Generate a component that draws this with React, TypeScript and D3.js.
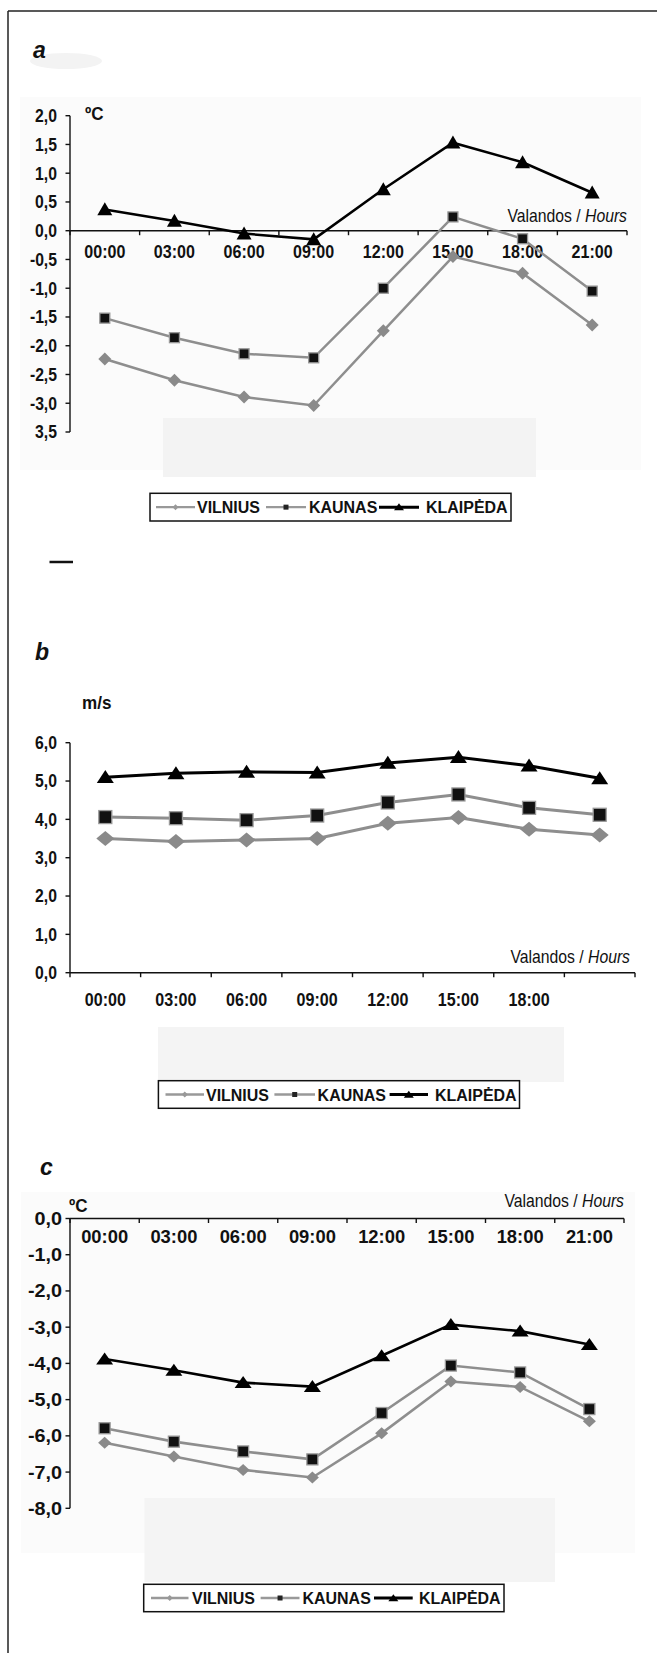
import React from "react";
import * as d3 from "d3";

const hours = ["00:00", "03:00", "06:00", "09:00", "12:00", "15:00", "18:00", "21:00"];
const hoursB = ["00:00", "03:00", "06:00", "09:00", "12:00", "15:00", "18:00"];
const seriesNames = ["VILNIUS", "KAUNAS", "KLAIPĖDA"];

// Panel a: air temperature, °C
const vilniusA = [-2.23, -2.6, -2.89, -3.04, -1.74, -0.45, -0.74, -1.64];
const kaunasA = [-1.52, -1.86, -2.14, -2.21, -1.0, 0.24, -0.14, -1.05];
const klaipedaA = [0.37, 0.17, -0.05, -0.15, 0.72, 1.53, 1.19, 0.66];
const yTicksA = [2, 1.5, 1, 0.5, 0, -0.5, -1, -1.5, -2, -2.5, -3, -3.5];
const yTickLabelsA = ["2,0", "1,5", "1,0", "0,5", "0,0", "-0,5", "-1,0", "-1,5", "-2,0", "-2,5", "-3,0", "3,5"];

// Panel b: wind speed, m/s
const vilniusB = [3.5, 3.42, 3.46, 3.5, 3.9, 4.05, 3.74, 3.59];
const kaunasB = [4.06, 4.03, 3.98, 4.1, 4.44, 4.65, 4.3, 4.12];
const klaipedaB = [5.1, 5.2, 5.24, 5.22, 5.47, 5.62, 5.4, 5.07];
const yTicksB = [0, 1, 2, 3, 4, 5, 6];
const yTickLabelsB = ["0,0", "1,0", "2,0", "3,0", "4,0", "5,0", "6,0"];

// Panel c: temperature, °C
const vilniusC = [-6.19, -6.57, -6.94, -7.15, -5.93, -4.5, -4.65, -5.6];
const kaunasC = [-5.79, -6.16, -6.43, -6.65, -5.37, -4.06, -4.25, -5.26];
const klaipedaC = [-3.88, -4.19, -4.53, -4.64, -3.79, -2.93, -3.11, -3.48];
const yTicksC = [0, -1, -2, -3, -4, -5, -6, -7, -8];
const yTickLabelsC = ["0,0", "-1,0", "-2,0", "-3,0", "-4,0", "-5,0", "-6,0", "-7,0", "-8,0"];

const FONT = "'Liberation Sans', Arial, Helvetica, sans-serif";
const GRAY_LINE = "#8e8e8e";
const GRAY_MARK = "#8a8a8a";

function T({
  x,
  y,
  sx = 1,
  size,
  anchor = "start",
  weight = "bold",
  italic = false,
  children,
}: {
  x: number;
  y: number;
  sx?: number;
  size: number;
  anchor?: string;
  weight?: string;
  italic?: boolean;
  children: React.ReactNode;
}) {
  return (
    <text
      transform={`translate(${x},${y}) scale(${sx},1)`}
      textAnchor={anchor}
      fontSize={size}
      fontWeight={weight}
      fontStyle={italic ? "italic" : "normal"}
      fill="#111"
    >
      {children}
    </text>
  );
}

type Cfg = {
  letter: string;
  letterX: number;
  letterY: number;
  unit: string;
  unitX: number;
  unitY: number;
  x0: number;
  x1: number;
  yDomain: [number, number];
  yRange: [number, number];
  axisValue: number;
  yTicks: number[];
  yTickLabels: string[];
  yLabelRight: number;
  yFont: number;
  ySx: number;
  xLabels: string[];
  xLabelY: number;
  xFont: number;
  xSx: number;
  hoursY: number;
  hoursRight: number;
  data: number[][];
  tri: [number, number];
  sq: number;
  dia: [number, number];
  lw: number;
  legend: { x0: number; x1: number; y0: number; y1: number; items: { l0: number; l1: number; t: number }[] };
};

function Triangle({ x, y, w, h, fill }: { x: number; y: number; w: number; h: number; fill: string }) {
  return <path d={`M${x},${y - h * 0.55}L${x + w / 2},${y + h * 0.45}L${x - w / 2},${y + h * 0.45}Z`} fill={fill} />;
}
function Diamond({ x, y, w, h, fill }: { x: number; y: number; w: number; h: number; fill: string }) {
  return <path d={`M${x},${y - h / 2}L${x + w / 2},${y}L${x},${y + h / 2}L${x - w / 2},${y}Z`} fill={fill} />;
}
function Square({ x, y, s }: { x: number; y: number; s: number }) {
  return <rect x={x - s / 2} y={y - s / 2} width={s} height={s} fill="#111" stroke="#999" strokeWidth={1.3} />;
}

function Chart({ c }: { c: Cfg }) {
  const xs = d3.scaleBand<string>().domain(hours).range([c.x0, c.x1]).paddingInner(0).paddingOuter(0);
  const ys = d3.scaleLinear().domain(c.yDomain).range(c.yRange);
  const cx = (h: string) => (xs(h) as number) + xs.bandwidth() / 2;
  const line = d3
    .line<number>()
    .x((_, i) => cx(hours[i]))
    .y((v) => ys(v));
  const axisY = ys(c.axisValue);
  const yTop = Math.min(...c.yRange);
  const yBot = Math.max(...c.yRange);
  const tickBounds = [c.x0, ...hours.map((h) => (xs(h) as number) + xs.bandwidth())];
  const [vil, kau, kla] = c.data;
  return (
    <g fontFamily={FONT}>
      <T x={c.letterX} y={c.letterY} size={23} italic>
        {c.letter}
      </T>
      <T x={c.unitX} y={c.unitY} size={18} sx={0.95}>
        {c.unit}
      </T>
      {/* y axis */}
      <line x1={c.x0} x2={c.x0} y1={yTop} y2={yBot} stroke="#111" strokeWidth={1.4} />
      {c.yTicks.map((t, i) => (
        <g key={i}>
          <line x1={c.x0 - 4.5} x2={c.x0} y1={ys(t)} y2={ys(t)} stroke="#111" strokeWidth={1.4} />
          <T x={c.yLabelRight} y={ys(t) + c.yFont * 0.36} anchor="end" size={c.yFont} sx={c.ySx}>
            {c.yTickLabels[i]}
          </T>
        </g>
      ))}
      {/* x axis */}
      <line x1={c.x0} x2={c.x1} y1={axisY} y2={axisY} stroke="#111" strokeWidth={1.4} />
      {tickBounds.map((tx, i) => (
        <line key={i} x1={tx} x2={tx} y1={axisY} y2={axisY + 4.5} stroke="#111" strokeWidth={1.4} />
      ))}
      {c.xLabels.map((h) => (
        <T key={h} x={cx(h)} y={c.xLabelY} anchor="middle" size={c.xFont} sx={c.xSx}>
          {h}
        </T>
      ))}
      <T x={c.hoursRight} y={c.hoursY} anchor="end" size={17.5} sx={0.9} weight="normal">
        Valandos / <tspan fontStyle="italic">Hours</tspan>
      </T>
      {/* series */}
      <path d={line(vil) || ""} fill="none" stroke={GRAY_LINE} strokeWidth={c.lw} />
      <path d={line(kau) || ""} fill="none" stroke={GRAY_LINE} strokeWidth={c.lw} />
      <path d={line(kla) || ""} fill="none" stroke="#000" strokeWidth={c.lw} />
      {vil.map((v, i) => (
        <Diamond key={"v" + i} x={cx(hours[i])} y={ys(v)} w={c.dia[0]} h={c.dia[1]} fill={GRAY_MARK} />
      ))}
      {kau.map((v, i) => (
        <Square key={"k" + i} x={cx(hours[i])} y={ys(v)} s={c.sq} />
      ))}
      {kla.map((v, i) => (
        <Triangle key={"t" + i} x={cx(hours[i])} y={ys(v)} w={c.tri[0]} h={c.tri[1]} fill="#000" />
      ))}
      {/* legend */}
      <rect
        x={c.legend.x0}
        y={c.legend.y0}
        width={c.legend.x1 - c.legend.x0}
        height={c.legend.y1 - c.legend.y0}
        fill="#fff"
        stroke="#111"
        strokeWidth={1.5}
      />
      {c.legend.items.map((it, i) => {
        const ly = (c.legend.y0 + c.legend.y1) / 2;
        const mx = (it.l0 + it.l1) / 2;
        return (
          <g key={i}>
            <line
              x1={it.l0}
              x2={it.l1}
              y1={ly}
              y2={ly}
              stroke={i === 2 ? "#000" : "#999"}
              strokeWidth={i === 2 ? 3 : 2.4}
            />
            {i === 0 && <Diamond x={mx} y={ly} w={6} h={6} fill="#999" />}
            {i === 1 && <rect x={mx - 2.5} y={ly - 2.5} width={5} height={5} fill="#222" />}
            {i === 2 && <Triangle x={mx} y={ly} w={10} h={7} fill="#000" />}
            <T x={it.t} y={ly + 6} size={17} sx={0.94}>
              {seriesNames[i]}
            </T>
          </g>
        );
      })}
    </g>
  );
}

const cfgA: Cfg = {
  letter: "a",
  letterX: 33,
  letterY: 58,
  unit: "ºC",
  unitX: 85,
  unitY: 120,
  x0: 70,
  x1: 627,
  yDomain: [-3.5, 2],
  yRange: [432, 115.7],
  axisValue: 0,
  yTicks: yTicksA,
  yTickLabels: yTickLabelsA,
  yLabelRight: 57,
  yFont: 17.5,
  ySx: 0.9,
  xLabels: hours,
  xLabelY: 258,
  xFont: 17.5,
  xSx: 0.92,
  hoursY: 222,
  hoursRight: 627,
  data: [vilniusA, kaunasA, klaipedaA],
  tri: [15, 13],
  sq: 10,
  dia: [13, 13],
  lw: 2.5,
  legend: {
    x0: 150,
    x1: 511,
    y0: 493.3,
    y1: 521,
    items: [
      { l0: 156, l1: 195, t: 197 },
      { l0: 266, l1: 306, t: 309 },
      { l0: 379, l1: 419, t: 426 },
    ],
  },
};

const cfgB: Cfg = {
  letter: "b",
  letterX: 35,
  letterY: 660,
  unit: "m/s",
  unitX: 82,
  unitY: 709,
  x0: 70,
  x1: 635,
  yDomain: [0, 6],
  yRange: [972.7, 742.7],
  axisValue: 0,
  yTicks: yTicksB,
  yTickLabels: yTickLabelsB,
  yLabelRight: 57,
  yFont: 17.5,
  ySx: 0.9,
  xLabels: hoursB,
  xLabelY: 1006,
  xFont: 17.5,
  xSx: 0.92,
  hoursY: 963,
  hoursRight: 630,
  data: [vilniusB, kaunasB, klaipedaB],
  tri: [17, 13],
  sq: 13,
  dia: [18, 15],
  lw: 3,
  legend: {
    x0: 158.4,
    x1: 519.5,
    y0: 1080.7,
    y1: 1108.3,
    items: [
      { l0: 165.5, l1: 204, t: 206 },
      { l0: 274.4, l1: 315, t: 317.6 },
      { l0: 389.6, l1: 428, t: 435 },
    ],
  },
};

const cfgC: Cfg = {
  letter: "c",
  letterX: 40,
  letterY: 1175,
  unit: "ºC",
  unitX: 69,
  unitY: 1212,
  x0: 70,
  x1: 624,
  yDomain: [-8, 0],
  yRange: [1508.3, 1218.5],
  axisValue: 0,
  yTicks: yTicksC,
  yTickLabels: yTickLabelsC,
  yLabelRight: 62,
  yFont: 18,
  ySx: 1.1,
  xLabels: hours,
  xLabelY: 1243,
  xFont: 18,
  xSx: 1.02,
  hoursY: 1207,
  hoursRight: 624,
  data: [vilniusC, kaunasC, klaipedaC],
  tri: [17, 12],
  sq: 11,
  dia: [13, 12],
  lw: 2.6,
  legend: {
    x0: 143.7,
    x1: 504,
    y0: 1584.3,
    y1: 1611.7,
    items: [
      { l0: 151, l1: 188.5, t: 192 },
      { l0: 260.6, l1: 299.5, t: 302.5 },
      { l0: 374, l1: 412.7, t: 419 },
    ],
  },
};

export default function App() {
  return (
    <svg
      width={657}
      height={1653}
      style={{ position: "absolute", left: 0, top: 0, background: "#fff" }}
      xmlns="http://www.w3.org/2000/svg"
    >
      {/* faint background panels of the scanned figure */}
      <ellipse cx={66} cy={61} rx={36} ry={8} fill="#f3f3f3" />
      <rect x={20} y={97} width={621} height={373} fill="#fbfbfb" />
      <rect x={163} y={418} width={373} height={59} fill="#f3f3f3" />
      <rect x={158} y={1027} width={406} height={55} fill="#f4f4f4" />
      <rect x={21} y={1192} width={614} height={361} fill="#fbfbfb" />
      <rect x={144.5} y={1498} width={410.5} height={84} fill="#f4f4f4" />
      {/* outer frame */}
      <line x1={8} x2={657} y1={11} y2={11} stroke="#222" strokeWidth={1.5} />
      <line x1={8} x2={8} y1={11} y2={1653} stroke="#222" strokeWidth={1.5} />
      <line x1={49.5} x2={73} y1={562} y2={562} stroke="#111" strokeWidth={2.5} />
      <Chart c={cfgA} />
      <Chart c={cfgB} />
      <Chart c={cfgC} />
    </svg>
  );
}
